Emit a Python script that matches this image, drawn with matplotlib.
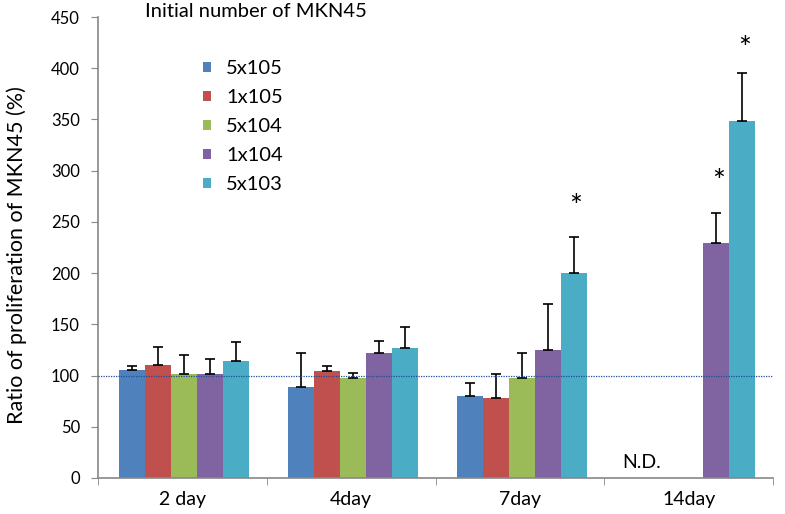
import numpy as np
import matplotlib
matplotlib.use("Agg")
import matplotlib.pyplot as plt

plt.rcParams['font.family'] = ['Lato', 'DejaVu Sans']

days = ["2 day", "4day", "7day", "14day"]
series = ["5x105", "1x105", "5x104", "1x104", "5x103"]
colors = ["#4F81BD", "#C0504D", "#9BBB59", "#8064A2", "#4BACC6"]

v_5x105 = [105, 88.5, 80, np.nan]
v_1x105 = [110, 104.5, 78, np.nan]
v_5x104 = [101.5, 97.5, 97.5, np.nan]
v_1x104 = [101.5, 122.5, 124.5, 229]
v_5x103 = [114.5, 126.5, 200.5, 348]

e_5x105 = [4, 33.5, 13, np.nan]
e_1x105 = [18, 5, 24, np.nan]
e_5x104 = [18.5, 5, 24.5, np.nan]
e_1x104 = [14.5, 11, 45, 29.5]
e_5x103 = [18, 21, 35, 47]

values = [v_5x105, v_1x105, v_5x104, v_1x104, v_5x103]
errors = [e_5x105, e_1x105, e_5x104, e_1x104, e_5x103]

# significance stars: (day index, series index, y)
stars = [(2, 4, 251), (3, 3, 275), (3, 4, 405)]

fig = plt.figure(figsize=(7.85, 5.14), dpi=100)
ax = fig.add_axes([98/785, 36/514, 675/785, 461/514])

x = np.arange(len(days))
w = 0.154
for i, (vals, errs, c, lab) in enumerate(zip(values, errors, colors, series)):
    pos = x + (i - 2) * w + 0.01
    vals = np.array(vals, dtype=float)
    errs = np.array(errs, dtype=float)
    ax.bar(pos, vals, width=w, color=c, label=lab, zorder=2)
    m = ~np.isnan(vals)
    ax.errorbar(pos[m], vals[m], yerr=[np.zeros(m.sum()), errs[m]], fmt='none',
                ecolor='black', elinewidth=1.2, capsize=3.5, capthick=1.2, zorder=3)

for d, s, yv in stars:
    ax.text(x[d] + (s - 2) * w + 0.025, yv, "*", ha='center', va='bottom', fontsize=22, color='black')

ax.text(x[3] - 0.28, 7, "N.D.", ha='center', va='bottom', fontsize=14)

ax.axhline(100, color='#1F4E99', linestyle=(0, (1, 1)), linewidth=0.9, zorder=4)

ax.set_xlim(-0.5, 3.5)
ax.set_ylim(0, 450)
ax.set_yticks(np.arange(0, 451, 50))
ax.set_xticks(x)
ax.set_xticklabels(days, fontsize=14)
ax.set_xticks(np.arange(-0.5, 3.6, 1), minor=True)
ax.tick_params(axis='x', which='major', length=0, pad=9)
ax.tick_params(axis='x', which='minor', length=5, color='#888888', direction='out')
ax.tick_params(axis='y', labelsize=12, length=5, color='#888888', direction='out', pad=8)
for sp in ['top', 'right']:
    ax.spines[sp].set_visible(False)
for sp in ['left', 'bottom']:
    ax.spines[sp].set_color('#888888')
    ax.spines[sp].set_linewidth(1.2)

ax.set_ylabel("Ratio of proliferation of MKN45 (%)", fontsize=15.5)
ax.yaxis.set_label_coords(-0.105, 0.484)

fig.text(145/785, 1 - 17/514, "Initial number of MKN45", fontsize=14.5, va='baseline', ha='left')
leg = ax.legend(loc='upper left', bbox_to_anchor=(95/675, 1 - 33/461), frameon=False,
                fontsize=14.5, handlelength=0.4, handleheight=0.4, labelspacing=0.6,
                handletextpad=0.75, borderpad=0)

fig.savefig("out.png", dpi=100)
